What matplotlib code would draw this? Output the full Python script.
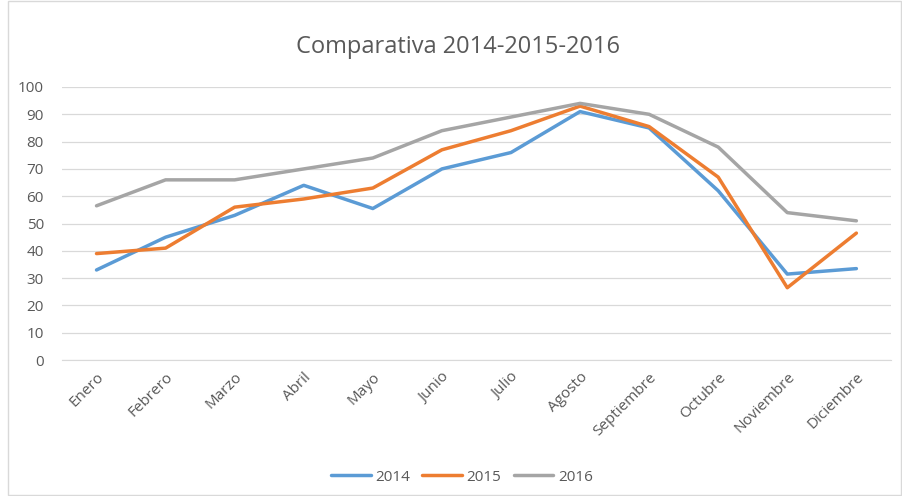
"""
Line chart comparing monthly values for 2014, 2015 and 2016
"""

import matplotlib
matplotlib.use("Agg")
import matplotlib.pyplot as plt
from matplotlib.patches import Rectangle

# Data
months = ["Enero", "Febrero", "Marzo", "Abril", "Mayo", "Junio", "Julio",
          "Agosto", "Septiembre", "Octubre", "Noviembre", "Diciembre"]
values_2014 = [33, 45, 53, 64, 55.5, 70, 76, 91, 85, 62, 31.5, 33.5]
values_2015 = [39, 41, 56, 59, 63, 77, 84, 93, 85.5, 67, 26.5, 46.5]
values_2016 = [56.5, 66, 66, 70, 74, 84, 89, 94, 90, 78, 54, 51]
years = ["2014", "2015", "2016"]
colors = ["#5B9BD5", "#ED7D31", "#A5A5A5"]
y_ticks = list(range(0, 101, 10))

plt.rcParams["font.family"] = ["Open Sans", "DejaVu Sans"]
text_color = "#595959"

fig = plt.figure(figsize=(9.02, 4.96), dpi=100)
ax = fig.add_axes([0.0687, 0.274, 0.919, 0.5506])

x = range(len(months))
for year, vals, col in zip(years, [values_2014, values_2015, values_2016], colors):
    ax.plot(x, vals, color=col, linewidth=2.5, label=year,
            solid_joinstyle="round", solid_capstyle="round")

ax.set_xlim(-0.5, len(months) - 0.5)
ax.set_ylim(0, 100)
ax.set_yticks(y_ticks)
ax.set_xticks(list(x))
ax.set_xticklabels(months, rotation=45, ha="right", va="top",
                   rotation_mode="anchor", fontsize=11, color=text_color)
ax.tick_params(axis="y", labelsize=11, labelcolor=text_color, length=0, pad=13)
ax.tick_params(axis="x", length=0, pad=7)
ax.grid(axis="y", color="#D9D9D9", linewidth=0.9)
ax.set_axisbelow(True)
for side in ["top", "right", "left"]:
    ax.spines[side].set_visible(False)
ax.spines["bottom"].set_color("#D9D9D9")

fig.text(0.508, 0.905, "Comparativa 2014-2015-2016", ha="center", va="center",
         fontsize=17, color=text_color)

fig.legend(loc="center", bbox_to_anchor=(0.512, 0.038), ncol=3, frameon=False,
           fontsize=11, labelcolor=text_color, handlelength=2.6,
           columnspacing=0.8, handletextpad=0.3)

# chart frame
fig.patches.append(Rectangle((0.009, 0.002), 0.99, 0.996, transform=fig.transFigure,
                             fill=False, edgecolor="#D9D9D9", linewidth=1))

fig.savefig("out.png", dpi=100)
